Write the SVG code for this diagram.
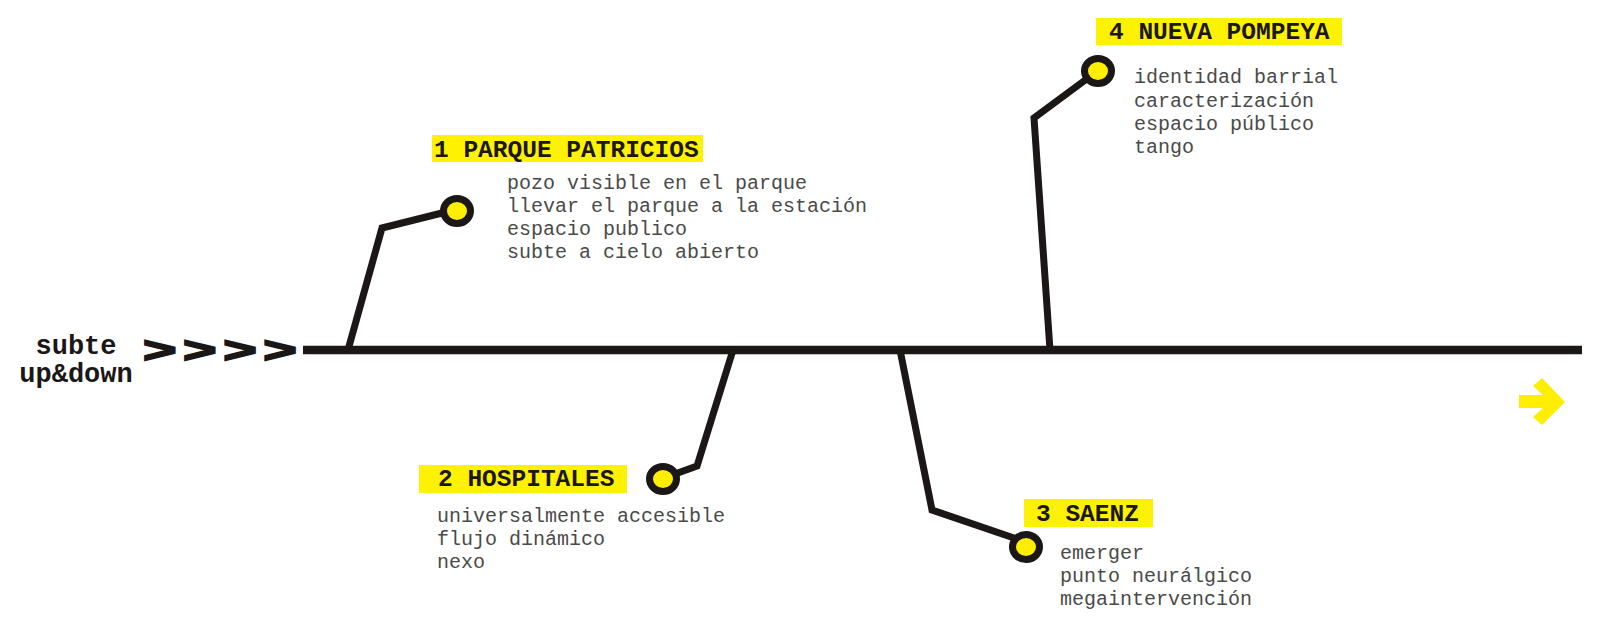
<svg xmlns="http://www.w3.org/2000/svg" width="1600" height="628" viewBox="0 0 1600 628">
<style>
.ln{fill:none;stroke:#1b1717;stroke-width:7;stroke-linejoin:miter;stroke-linecap:butt}
.dot{fill:#ffee00;stroke:#1b1717;stroke-width:7}
.box{fill:#fff200}
.ttl{font-family:"Liberation Mono","Courier New",monospace;font-weight:bold;font-size:24.5px;fill:#1b1717}
.txt{font-family:"Liberation Mono","Courier New",monospace;font-size:20px;fill:#4a4a4a}
.big{font-family:"Liberation Mono","Courier New",monospace;font-weight:bold;font-size:27px;fill:#1b1717}
</style>
<rect width="1600" height="628" fill="#fff"/>
<g id="start">
<text class="big" x="76" y="354" text-anchor="middle">subte</text>
<text class="big" x="76" y="382" text-anchor="middle">up&amp;down</text>
<text transform="translate(143,362) scale(1,0.62)" x="0" y="0" font-family="Liberation Mono, monospace" font-weight="bold" font-size="56" letter-spacing="6.5" fill="#1b1717" stroke="#1b1717" stroke-width="3.5" stroke-linejoin="miter">&gt;&gt;&gt;&gt;</text>
</g>
<g id="connectors">
<line x1="303" y1="350" x2="1582" y2="350" stroke="#1b1717" stroke-width="8.5"/>
<polyline class="ln" points="348,350 382,228 446,212"/>
<polyline class="ln" points="733,350 697,466 675,474"/>
<polyline class="ln" points="900,350 932,510 1014,538"/>
<polyline class="ln" points="1050,350 1034,118 1088,78"/>
</g>
<g id="n1">
<ellipse class="dot" cx="457" cy="211" rx="13.5" ry="12.5"/>
<rect class="box" x="432" y="135" width="271" height="27"/>
<text class="ttl" x="434" y="157">1 PARQUE PATRICIOS</text>
<text class="txt" x="507" y="189">pozo visible en el parque</text>
<text class="txt" x="507" y="212">llevar el parque a la estación</text>
<text class="txt" x="507" y="235">espacio publico</text>
<text class="txt" x="507" y="258">subte a cielo abierto</text>
</g>
<g id="n2">
<ellipse class="dot" cx="663" cy="479" rx="13.5" ry="12.5"/>
<rect class="box" x="419" y="465" width="208" height="28"/>
<text class="ttl" x="438" y="486">2 HOSPITALES</text>
<text class="txt" x="437" y="522">universalmente accesible</text>
<text class="txt" x="437" y="545">flujo dinámico</text>
<text class="txt" x="437" y="568">nexo</text>
</g>
<g id="n3">
<ellipse class="dot" cx="1026" cy="547" rx="13.5" ry="12.5"/>
<rect class="box" x="1024" y="499" width="129" height="28"/>
<text class="ttl" x="1036" y="521">3 SAENZ</text>
<text class="txt" x="1060" y="559">emerger</text>
<text class="txt" x="1060" y="582">punto neurálgico</text>
<text class="txt" x="1060" y="605">megaintervención</text>
</g>
<g id="n4">
<ellipse class="dot" cx="1098" cy="71" rx="13.5" ry="12.5"/>
<rect class="box" x="1096" y="18" width="246" height="27"/>
<text class="ttl" x="1109" y="39">4 NUEVA POMPEYA</text>
<text class="txt" x="1134" y="83">identidad barrial</text>
<text class="txt" x="1134" y="107">caracterización</text>
<text class="txt" x="1134" y="130">espacio público</text>
<text class="txt" x="1134" y="153">tango</text>
</g>
<g id="arrow">
<polygon fill="#ffee00" points="1533,386 1542,378 1565,402 1542,425 1533,417 1543,408 1519,408 1519,395 1543,395"/>
</g>
</svg>
